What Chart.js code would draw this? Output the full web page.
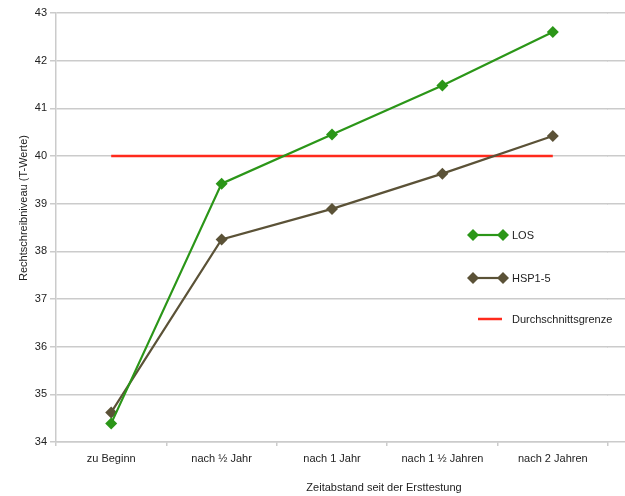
<!DOCTYPE html>
<html>
<head>
<meta charset="utf-8">
<script src="https://cdn.jsdelivr.net/npm/chart.js@4"></script>
<style>
  html, body { margin: 0; padding: 0; background: #ffffff; }
  #wrap { width: 625px; height: 496px; position: relative; overflow: hidden; }
</style>
</head>
<body>
<div id="wrap"><canvas id="c" width="625" height="496"></canvas></div>
<script>
const categories = ['zu Beginn', 'nach ½ Jahr', 'nach 1 Jahr', 'nach 1 ½ Jahren', 'nach 2 Jahren'];
const losValues = [34.39, 39.42, 40.45, 41.48, 42.6];
const hspValues = [34.62, 38.25, 38.89, 39.63, 40.42];
const thresholdValues = [40, 40, 40, 40, 40];
const seriesNames = ['LOS', 'HSP1-5', 'Durchschnittsgrenze'];
const yMin = 34, yMax = 43, yStep = 1;
const xAxisTitle = 'Zeitabstand seit der Ersttestung';
const yAxisTitle = 'Rechtschreibniveau (T-Werte)';

const FONT = '"Liberation Sans", Arial, Helvetica, sans-serif';
const TEXT = '#222222';
const GRID = '#cbcbcb';
const GREEN = '#2b9618';
const OLIVE = '#5b5237';
const RED = '#ff2a1c';

function alignPx(p, w) {
  const hw = w / 2;
  return Math.round(p - hw) + hw;
}

const extrasPlugin = {
  id: 'extras',
  beforeDatasetsDraw(chart) {
    const ctx = chart.ctx, ca = chart.chartArea, ys = chart.scales.y;
    ctx.save();
    ctx.strokeStyle = GRID;
    ctx.lineWidth = 1.5;
    for (let v = yMin; v <= yMax; v += yStep) {
      const y = alignPx(ys.getPixelForValue(v), 1.5);
      ctx.beginPath();
      ctx.moveTo(ca.right - 1, y);
      ctx.lineTo(chart.width, y);
      ctx.stroke();
    }
    ctx.restore();
  },
  afterDraw(chart) {
    const ctx = chart.ctx;
    ctx.save();
    // legend
    const lx0 = 473, lx1 = 503, tx = 512;
    const ys = [235, 278, 319];
    chart.data.datasets.forEach((ds, i) => {
      const y = ys[i];
      ctx.strokeStyle = ds.borderColor;
      ctx.lineWidth = ds.borderWidth;
      ctx.beginPath();
      if (ds.pointRadius > 0) {
        ctx.moveTo(lx0, y); ctx.lineTo(lx1, y);
      } else {
        ctx.moveTo(lx0 + 5, y); ctx.lineTo(lx1 - 1, y);
      }
      ctx.stroke();
      if (ds.pointRadius > 0) {
        ctx.fillStyle = ds.pointBackgroundColor;
        [lx0, lx1].forEach(px => {
          const r = 6;
          ctx.beginPath();
          ctx.moveTo(px, y - r); ctx.lineTo(px + r, y); ctx.lineTo(px, y + r); ctx.lineTo(px - r, y);
          ctx.closePath(); ctx.fill();
        });
      }
      ctx.fillStyle = TEXT;
      ctx.font = '11px ' + FONT;
      ctx.textAlign = 'left';
      ctx.textBaseline = 'middle';
      ctx.fillText(ds.label, tx, y + 1);
    });
    // axis titles
    ctx.fillStyle = TEXT;
    ctx.font = '11px ' + FONT;
    ctx.textAlign = 'center';
    ctx.textBaseline = 'middle';
    ctx.fillText(xAxisTitle, 384, 488);
    ctx.translate(24, 208);
    ctx.rotate(-Math.PI / 2);
    ctx.fillText(yAxisTitle, 0, 0);
    ctx.restore();
  }
};

new Chart(document.getElementById('c'), {
  type: 'line',
  data: {
    labels: categories,
    datasets: [
      {
        label: seriesNames[0], data: losValues,
        borderColor: GREEN, backgroundColor: GREEN, pointBackgroundColor: GREEN, pointBorderColor: GREEN,
        borderWidth: 2.2, pointStyle: 'rectRot', pointRadius: 6, pointBorderWidth: 0, tension: 0
      },
      {
        label: seriesNames[1], data: hspValues,
        borderColor: OLIVE, backgroundColor: OLIVE, pointBackgroundColor: OLIVE, pointBorderColor: OLIVE,
        borderWidth: 2.2, pointStyle: 'rectRot', pointRadius: 6, pointBorderWidth: 0, tension: 0
      },
      {
        label: seriesNames[2], data: thresholdValues,
        borderColor: RED, backgroundColor: RED, pointBackgroundColor: RED,
        borderWidth: 2.5, pointRadius: 0, tension: 0
      }
    ]
  },
  options: {
    responsive: false,
    animation: false,
    events: [],
    layout: { padding: { top: 13, right: 17, left: 0, bottom: 0 } },
    plugins: { legend: { display: false }, tooltip: { enabled: false } },
    scales: {
      x: {
        type: 'category',
        offset: true,
        afterFit(s) { s.height = 54; },
        grid: { display: true, drawOnChartArea: false, drawTicks: true, tickLength: 4, offset: true, color: GRID, lineWidth: 1.5 },
        border: { display: true, color: GRID, width: 1.5 },
        ticks: { color: TEXT, font: { family: FONT, size: 11 }, padding: 6, maxRotation: 0, autoSkip: false }
      },
      y: {
        min: yMin, max: yMax,
        afterFit(s) { s.width = 56; },
        grid: { color: GRID, lineWidth: 1.5, tickLength: 6, drawTicks: true },
        border: { display: true, color: GRID, width: 1.5 },
        ticks: { stepSize: yStep, color: TEXT, font: { family: FONT, size: 11 }, padding: 3 }
      }
    }
  },
  plugins: [extrasPlugin]
});
</script>
</body>
</html>
